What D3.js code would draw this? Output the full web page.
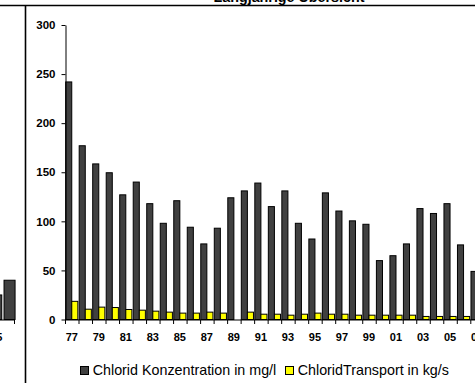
<!DOCTYPE html>
<html><head><meta charset="utf-8">
<script src="https://cdn.jsdelivr.net/npm/d3@7"></script>
<style>body{margin:0;background:#fff}svg{display:block;font-family:"Liberation Sans",Arial,sans-serif}</style>
</head><body><svg id="c" width="475" height="383"></svg>
<script>
const title = "Langjährige Übersicht";
const years = ["77","78","79","80","81","82","83","84","85","86","87","88","89","90","91","92","93","94","95","96","97","98","99","00","01","02","03","04","05","06","07"];
const tickYears = ["77","79","81","83","85","87","89","91","93","95","97","99","01","03","05","07"];
const concentration = [242,177,158.5,149.5,127,140,118,98,121,94,77,93,124,131,139,115,131,98,82,129,110.5,100.5,97,60,65,77,113,108,118,76,49];
const transport = [18.5,10.5,12.6,12.2,10.2,9.5,8.5,7.5,6.5,6.5,7.5,6.5,0,7.5,5.4,5.4,4.4,5.4,6.5,5.4,5.4,4.4,4.4,4.4,4.4,4.4,3.1,3.1,3.1,3.1,3];
const yTicks = [0,50,100,150,200,250,300];
const seriesNames = ["Chlorid Konzentration in mg/l","ChloridTransport in kg/s"];
const seriesColors = ["#404040","#ffff00"];
// neighbouring chart (cut off at the left edge)
const leftYears = ["05","06"];
const leftValues = [25,40];
const leftTickLabels = ["05"];

const svg = d3.select("#c");
const font = '"Liberation Sans",Arial,sans-serif';

// table borders
svg.append("line").attr("x1",0).attr("x2",475).attr("y1",5.5).attr("y2",5.5).attr("stroke","#000").attr("stroke-width",1.6);
svg.append("line").attr("x1",25.5).attr("x2",25.5).attr("y1",5).attr("y2",383).attr("stroke","#000").attr("stroke-width",1.6);

// title (cut at top)
svg.append("text").attr("x",289).attr("y",1.5).attr("text-anchor","middle")
  .attr("font-weight","bold").attr("font-size","14.3px").text(title);

const y = d3.scaleLinear().domain([0,300]).range([319.5,25]);
const step = 13.51;
const x0 = d3.scaleBand().domain(years).range([65, 65 + step*years.length]).paddingInner(0.1).paddingOuter(0.05);
const x1 = d3.scaleBand().domain([0,1]).range([0, x0.bandwidth()]);

const g = svg.append("g");
const data = years.map((yr,i)=>({yr, vals:[concentration[i], transport[i]]}));
const grp = g.selectAll("g.cat").data(data).join("g").attr("transform",d=>`translate(${x0(d.yr)},0)`);
grp.selectAll("rect").data(d=>d.vals.map((v,k)=>({v,k}))).join("rect")
  .attr("x",d=>x1(d.k)).attr("width",x1.bandwidth())
  .attr("y",d=>y(d.v)).attr("height",d=>y(0)-y(d.v))
  .attr("fill",d=>seriesColors[d.k]).attr("stroke","#000").attr("stroke-width",1);

// y axis
const ya = svg.append("g").attr("transform","translate(65.5,0)")
  .call(d3.axisLeft(y).tickValues(yTicks).tickSize(4).tickSizeOuter(0).tickPadding(6));
ya.selectAll("text").attr("font-weight","bold").attr("font-size","11.5px").attr("font-family",font).attr("fill","#000");
ya.select(".domain").attr("stroke","#000");

// x axis
const xa = svg.append("g").attr("transform",`translate(0,${y(0)})`)
  .call(d3.axisBottom(x0).tickValues(tickYears).tickSize(0).tickSizeOuter(0).tickPadding(14));
xa.selectAll("text").attr("font-weight","bold").attr("font-size","11px").attr("font-family",font).attr("fill","#000");
xa.select(".domain").attr("stroke","#000").attr("d",`M65,0.5H${65+step*years.length}`);
const half = (x0.step()-x0.bandwidth())/2;
svg.append("g").selectAll("line").data(years).join("line")
  .attr("x1",d=>x0(d)-half+0.5).attr("x2",d=>x0(d)-half+0.5)
  .attr("y1",y(0)).attr("y2",y(0)+4.5).attr("stroke","#000");

// left neighbouring chart fragment
const xl = d3.scaleBand().domain(leftYears).range([-10.4,16.2]).paddingInner(0.17).paddingOuter(0.085);
svg.append("g").selectAll("rect").data(leftYears.map((d,i)=>({d,v:leftValues[i]}))).join("rect")
  .attr("x",d=>xl(d.d)).attr("width",xl.bandwidth()).attr("y",d=>y(d.v)).attr("height",d=>y(0)-y(d.v))
  .attr("fill",seriesColors[0]).attr("stroke","#000");
const la = svg.append("g").attr("transform",`translate(0,${y(0)})`)
  .call(d3.axisBottom(xl).tickValues(leftTickLabels).tickSize(0).tickSizeOuter(0).tickPadding(14));
la.selectAll("text").attr("font-weight","bold").attr("font-size","11px").attr("font-family",font).attr("fill","#000");
la.select(".domain").attr("stroke","#000").attr("d","M-5,0.5H15");
svg.append("line").attr("x1",14.5).attr("x2",14.5).attr("y1",y(0)).attr("y2",y(0)+4.5).attr("stroke","#000");

// legend
const legX = [80, 285];
const leg = svg.append("g").selectAll("g").data(seriesNames).join("g")
  .attr("transform",(d,i)=>`translate(${legX[i]},366)`);
leg.append("rect").attr("x",0.5).attr("y",0.5).attr("width",8).attr("height",8)
  .attr("fill",(d,i)=>seriesColors[i]).attr("stroke","#000");
leg.append("text").attr("x",12.7).attr("y",9).attr("font-size","14.3px").attr("fill","#000").text(d=>d);
</script></body></html>
